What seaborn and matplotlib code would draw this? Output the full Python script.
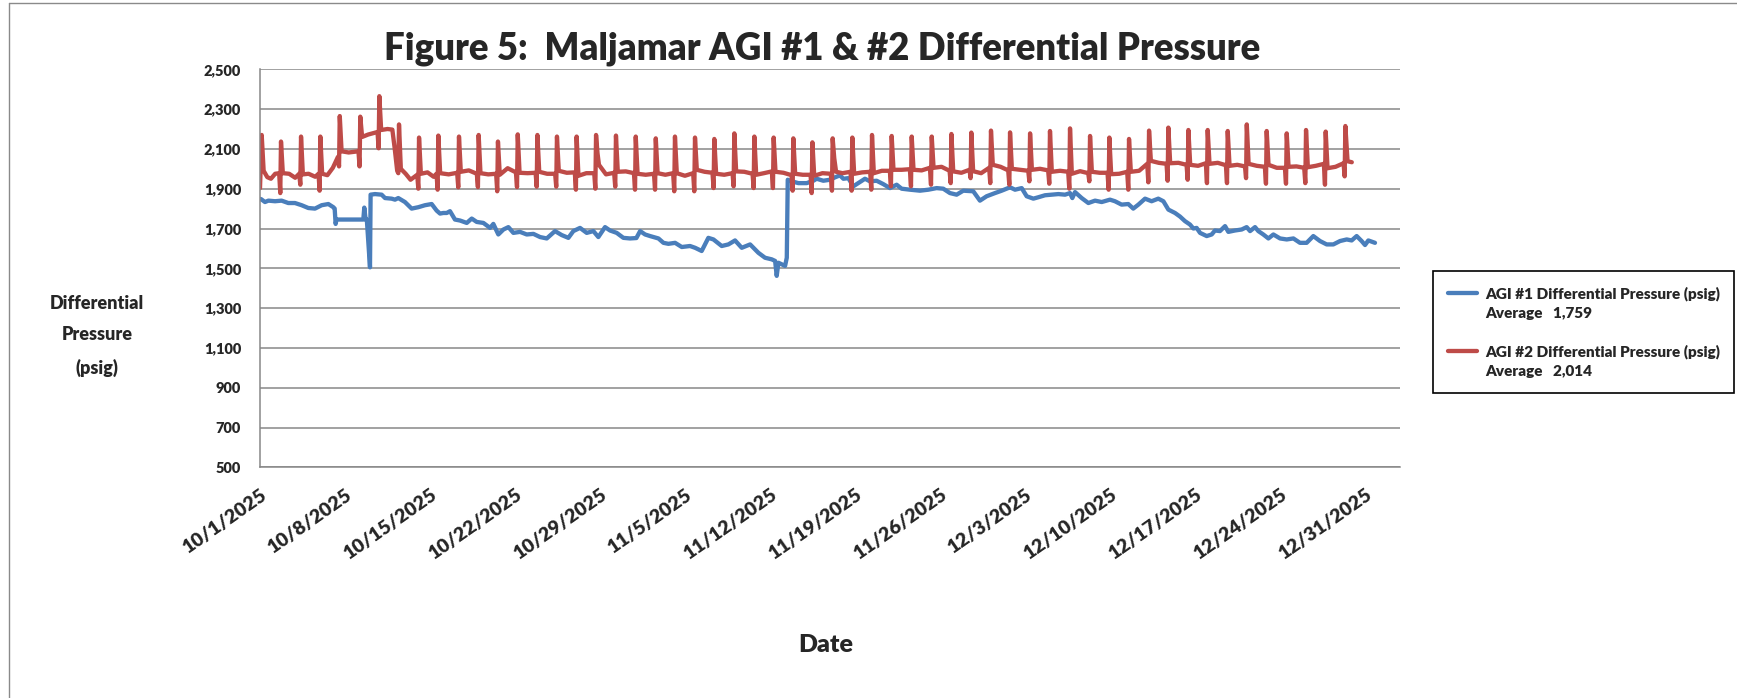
import numpy as np
import pandas as pd
import matplotlib
matplotlib.use("Agg")
import matplotlib.pyplot as plt
import seaborn as sns
from matplotlib.lines import Line2D

# ---------------- data ----------------
START_DATE = "2025-10-01"

# AGI #1 differential pressure: (days after 10/1/2025, psig)
agi1_points = [
    (0.00, 1848), (0.08, 1848), (0.41, 1833), (0.69, 1840), (1.24, 1837), (1.78, 1840),
    (2.33, 1828), (2.88, 1828), (3.43, 1817), (3.98, 1803), (4.53, 1800), (5.08, 1817),
    (5.63, 1823), (6.04, 1807), (6.15, 1800), (6.23, 1723), (6.30, 1745), (7.83, 1745),
    (8.51, 1745), (8.59, 1805), (8.70, 1745), (8.80, 1745), (9.06, 1505), (9.11, 1870),
    (9.47, 1873), (10.02, 1870), (10.30, 1853), (10.84, 1850), (11.12, 1845), (11.39, 1853),
    (11.94, 1833), (12.49, 1800), (13.04, 1807), (13.59, 1817), (14.14, 1823), (14.55, 1790),
    (14.83, 1775), (15.10, 1778), (15.38, 1778), (15.65, 1787), (16.06, 1745), (16.48, 1740),
    (17.03, 1728), (17.44, 1750), (17.85, 1733), (18.40, 1728), (18.95, 1703), (19.22, 1723),
    (19.63, 1670), (20.05, 1695), (20.46, 1707), (20.87, 1678), (21.42, 1683), (21.97, 1670),
    (22.52, 1673), (23.07, 1657), (23.62, 1650), (24.30, 1687), (24.85, 1667), (25.40, 1653),
    (25.81, 1687), (26.36, 1703), (26.91, 1678), (27.46, 1687), (27.87, 1657), (28.42, 1707),
    (28.83, 1690), (29.38, 1678), (29.93, 1653), (30.48, 1650), (31.00, 1652), (31.31, 1687),
    (31.72, 1670), (32.13, 1662), (32.82, 1650), (33.23, 1628), (33.64, 1623), (34.19, 1628),
    (34.74, 1607), (35.42, 1612), (35.84, 1603), (36.38, 1587), (36.93, 1653), (37.35, 1645),
    (38.03, 1612), (38.58, 1620), (39.13, 1640), (39.68, 1603), (40.37, 1620), (41.05, 1578),
    (41.60, 1553), (42.15, 1545), (42.43, 1537), (42.56, 1462), (42.70, 1528), (42.98, 1520),
    (43.25, 1512), (43.39, 1553), (43.47, 1945), (43.80, 1937), (44.35, 1928), (45.03, 1928),
    (45.58, 1940), (45.85, 1950), (46.40, 1940), (46.95, 1945), (47.36, 1957), (47.77, 1967),
    (48.05, 1950), (48.46, 1953), (48.87, 1912), (49.28, 1928), (49.83, 1950), (50.24, 1937),
    (50.79, 1940), (51.34, 1923), (51.89, 1903), (52.44, 1920), (52.85, 1900), (53.54, 1895),
    (54.36, 1890), (55.05, 1895), (55.73, 1903), (56.28, 1900), (56.83, 1878), (57.38, 1870),
    (57.93, 1890), (58.75, 1887), (59.30, 1840), (59.85, 1862), (60.54, 1878), (61.09, 1890),
    (61.78, 1907), (62.19, 1895), (62.74, 1903), (63.15, 1862), (63.70, 1850), (64.11, 1857),
    (64.66, 1867), (65.21, 1870), (65.76, 1873), (66.31, 1870), (66.72, 1878), (66.91, 1853),
    (67.13, 1883), (67.68, 1853), (68.23, 1828), (68.78, 1840), (69.33, 1833), (70.01, 1845),
    (70.42, 1837), (70.97, 1820), (71.52, 1823), (71.93, 1800), (72.35, 1820), (72.90, 1850),
    (73.44, 1837), (73.99, 1850), (74.41, 1837), (74.82, 1795), (75.37, 1778), (75.78, 1760),
    (76.19, 1737), (76.60, 1720), (76.88, 1700), (77.15, 1703), (77.43, 1678), (77.98, 1662),
    (78.39, 1670), (78.66, 1690), (79.07, 1687), (79.49, 1712), (79.76, 1683), (80.31, 1690),
    (80.86, 1695), (81.27, 1707), (81.55, 1687), (81.96, 1707), (82.23, 1687), (82.64, 1670),
    (83.06, 1650), (83.47, 1670), (84.02, 1650), (84.57, 1645), (85.12, 1650), (85.66, 1628),
    (86.21, 1628), (86.76, 1662), (87.31, 1637), (87.86, 1620), (88.41, 1620), (88.96, 1637),
    (89.51, 1645), (89.92, 1640), (90.33, 1662), (90.74, 1637), (91.02, 1617), (91.29, 1640),
    (91.84, 1628),
]

# AGI #2 differential pressure: (days after 10/1/2025, psig)
agi2_points = [
    (0.00, 1903), (0.14, 2170), (0.30, 1990), (0.60, 1958), (0.90, 1950), (1.25, 1975), (1.58, 1978),
    (1.67, 1878), (1.73, 2137), (1.88, 1978), (2.40, 1975), (2.90, 1955), (3.23, 1975),
    (3.32, 1920), (3.38, 2162), (3.53, 1972), (4.00, 1975), (4.55, 1960), (4.82, 1975),
    (4.91, 1890), (4.97, 2162), (5.12, 1975), (5.55, 1968), (6.00, 2005), (6.42, 2060),
    (6.51, 2012), (6.57, 2265), (6.72, 2088), (7.30, 2082), (7.80, 2086), (8.11, 2088),
    (8.20, 2012), (8.26, 2262), (8.41, 2160), (8.90, 2172), (9.40, 2180), (9.68, 2185),
    (9.77, 2103), (9.83, 2365), (9.98, 2195), (10.50, 2200), (10.90, 2197), (11.10, 2100), (11.30, 1990),
    (11.39, 1978), (11.45, 2223), (11.60, 2000), (12.00, 1975), (12.40, 1945), (12.95, 1970),
    (13.04, 1900), (13.10, 2157), (13.25, 1975), (13.80, 1982), (14.30, 1960),
    (14.54, 1975), (14.63, 1895), (14.69, 2167), (14.84, 1978), (15.54, 1972),
    (16.24, 1980), (16.33, 1907), (16.39, 2162), (16.54, 1985), (17.20, 1992),
    (17.86, 1975), (17.95, 1908), (18.01, 2170), (18.16, 1978), (18.80, 1972),
    (19.45, 1975), (19.54, 1887), (19.60, 2137), (19.75, 1970), (20.40, 2003),
    (21.08, 1982), (21.17, 1908), (21.23, 2173), (21.38, 1980), (22.04, 1978),
    (22.70, 1980), (22.79, 1910), (22.85, 2170), (23.00, 1985), (23.65, 1975),
    (24.31, 1975), (24.40, 1910), (24.46, 2162), (24.61, 1990), (25.27, 1980),
    (25.93, 1982), (26.02, 1895), (26.08, 2162), (26.23, 1965), (26.88, 1978),
    (27.53, 1978), (27.62, 1900), (27.68, 2170), (27.80, 2078), (27.92, 2020), (28.50, 1972),
    (29.17, 1980), (29.26, 1910), (29.32, 2167), (29.47, 1985), (30.13, 1987),
    (30.80, 1978), (30.89, 1895), (30.95, 2162), (31.10, 1975), (31.77, 1970),
    (32.45, 1975), (32.54, 1895), (32.60, 2153), (32.75, 1978), (33.39, 1970),
    (34.03, 1978), (34.12, 1887), (34.18, 2162), (34.33, 1978), (35.00, 1965),
    (35.68, 1978), (35.77, 1887), (35.83, 2157), (35.98, 1995), (36.62, 1985),
    (37.27, 1980), (37.36, 1903), (37.42, 2150), (37.57, 1975), (38.24, 1970),
    (38.92, 1978), (39.01, 1912), (39.07, 2178), (39.22, 1987), (39.89, 1985),
    (40.57, 1975), (40.66, 1903), (40.72, 2162), (40.87, 1970), (41.51, 1978),
    (42.16, 1987), (42.25, 1903), (42.31, 2157), (42.46, 1985), (43.12, 1980),
    (43.78, 1968), (43.87, 1890), (43.93, 2153), (44.08, 1975), (44.71, 1970),
    (45.35, 1970), (45.44, 1878), (45.50, 2133), (45.65, 1965), (46.33, 1978),
    (47.02, 1975), (47.11, 1890), (47.17, 2153), (47.30, 2053), (47.45, 1985), (47.98, 1978),
    (48.64, 1985), (48.73, 1890), (48.79, 2157), (48.94, 1975), (49.60, 1982),
    (50.26, 1985), (50.35, 1895), (50.41, 2170), (50.56, 1978), (51.22, 1990),
    (51.88, 1990), (51.97, 1912), (52.03, 2165), (52.18, 1995), (52.85, 1995),
    (53.53, 1998), (53.62, 1912), (53.68, 2162), (53.83, 1995), (54.50, 1992),
    (55.18, 2005), (55.27, 1920), (55.33, 2162), (55.48, 2005), (56.14, 2010),
    (56.80, 1990), (56.89, 1928), (56.95, 2175), (57.10, 1987), (57.77, 1980),
    (58.44, 1995), (58.53, 1953), (58.59, 2182), (58.74, 1988), (59.40, 1978),
    (60.06, 2005), (60.15, 1928), (60.21, 2192), (60.36, 2020), (61.00, 2010),
    (61.63, 1992), (61.72, 1920), (61.78, 2183), (61.93, 2000), (62.60, 1995),
    (63.28, 1990), (63.37, 1937), (63.43, 2178), (63.58, 1995), (64.25, 2000),
    (64.92, 1992), (65.01, 1925), (65.07, 2190), (65.22, 1985), (65.90, 1990),
    (66.57, 1985), (66.66, 1900), (66.72, 2203), (66.87, 1975), (67.55, 1988),
    (68.22, 1978), (68.31, 1937), (68.37, 2165), (68.52, 1985), (69.17, 1980),
    (69.81, 1980), (69.90, 1895), (69.96, 2157), (70.11, 1973), (70.77, 1975),
    (71.43, 1985), (71.52, 1895), (71.58, 2150), (71.73, 1985), (72.41, 1990),
    (73.08, 2025), (73.17, 1932), (73.23, 2192), (73.38, 2040), (74.03, 2030),
    (74.67, 2025), (74.76, 1940), (74.82, 2207), (74.97, 2028), (75.65, 2030),
    (76.32, 2020), (76.41, 1945), (76.47, 2195), (76.62, 2020), (77.27, 2015),
    (77.91, 2028), (78.00, 1928), (78.06, 2195), (78.21, 2025), (78.89, 2030),
    (79.56, 2018), (79.65, 1928), (79.71, 2190), (79.86, 2015), (80.50, 2020),
    (81.13, 2012), (81.22, 1953), (81.28, 2223), (81.43, 2025), (82.10, 2015),
    (82.77, 2010), (82.86, 1925), (82.92, 2190), (83.07, 2020), (83.75, 2005),
    (84.42, 2005), (84.51, 1925), (84.57, 2178), (84.72, 2010), (85.37, 2012),
    (86.01, 2005), (86.10, 1928), (86.16, 2195), (86.31, 2008), (86.97, 2015),
    (87.63, 2025), (87.72, 1920), (87.78, 2187), (87.93, 2003), (88.59, 2010),
    (89.25, 2028), (89.34, 1962), (89.40, 2215), (89.58, 2038), (89.93, 2033),
]

series_names = ["AGI #1 Differential Pressure (psig)", "AGI #2 Differential Pressure (psig)"]
series_averages = ["Average   1,759", "Average   2,014"]

x_tick_dates = ["2025-10-01", "2025-10-08", "2025-10-15", "2025-10-22", "2025-10-29",
                "2025-11-05", "2025-11-12", "2025-11-19", "2025-11-26", "2025-12-03",
                "2025-12-10", "2025-12-17", "2025-12-24", "2025-12-31"]
x_tick_labels = ["10/1/2025", "10/8/2025", "10/15/2025", "10/22/2025", "10/29/2025",
                 "11/5/2025", "11/12/2025", "11/19/2025", "11/26/2025", "12/3/2025",
                 "12/10/2025", "12/17/2025", "12/24/2025", "12/31/2025"]
y_ticks = [500, 700, 900, 1100, 1300, 1500, 1700, 1900, 2100, 2300, 2500]
y_tick_labels = ["500", "700", "900", "1,100", "1,300", "1,500", "1,700", "1,900",
                 "2,100", "2,300", "2,500"]

title_text = "Figure 5:  Maljamar AGI #1 & #2 Differential Pressure"
y_label_text = "Differential\nPressure\n(psig)"
x_label_text = "Date"

# ---------------- style ----------------
sns.set_style("white")
plt.rcParams["font.family"] = ["Lato", "DejaVu Sans"]
WEIGHT = "heavy"
plt.rcParams["font.weight"] = WEIGHT

BLUE = "#4A7EBB"
RED = "#BE4B48"
GRID = "#878787"

W, H = 1737, 698
fig = plt.figure(figsize=(W / 100, H / 100), dpi=100)
fig.patch.set_facecolor("white")
ax = fig.add_axes([260 / W, 1 - 467.3 / H, 1140 / W, 398 / H])

start = pd.Timestamp(START_DATE)
df1 = pd.DataFrame(agi1_points, columns=["day", "psig"])
df1["date"] = start + pd.to_timedelta(df1["day"], unit="D")
df2 = pd.DataFrame(agi2_points, columns=["day", "psig"])
df2["date"] = start + pd.to_timedelta(df2["day"], unit="D")

sns.lineplot(data=df1, x="date", y="psig", ax=ax, color=BLUE, lw=3.1,
             label=series_names[0], legend=False, solid_joinstyle="round")
sns.lineplot(data=df2, x="date", y="psig", ax=ax, color=RED, lw=3.1,
             label=series_names[1], legend=False, solid_joinstyle="round")

ax.set_ylim(500, 2500)
ax.set_xlim(start, start + pd.Timedelta(days=93.9))
ax.set_yticks(y_ticks)
ax.set_yticklabels(y_tick_labels, fontsize=10.5, fontweight=WEIGHT)
ax.set_xticks(pd.to_datetime(x_tick_dates))
ax.set_xticklabels(x_tick_labels, fontsize=14, fontweight=WEIGHT, rotation=35,
                   ha="right", rotation_mode="anchor")
ax.set_xlabel("")
ax.set_ylabel("")

ax.grid(axis="y", color=GRID, lw=1.1)
ax.grid(axis="x", visible=False)
ax.set_axisbelow(True)
for s in ["top", "right"]:
    ax.spines[s].set_visible(False)
for s in ["left", "bottom"]:
    ax.spines[s].set_color(GRID)
    ax.spines[s].set_linewidth(1.1)
ax.tick_params(axis="x", direction="out", length=5.5, width=1.1, color=GRID, pad=8)
ax.tick_params(axis="y", direction="out", length=3.6, width=1.1, color=GRID, pad=10)

# titles / labels
fig.text(822 / W, 1 - 49 / H, title_text, ha="center", va="center",
         fontsize=26.3, fontweight=WEIGHT)
fig.text(97 / W, 1 - 336 / H, y_label_text, ha="center", va="center",
         fontsize=13, fontweight=WEIGHT, linespacing=2.05)
fig.text(826 / W, 1 - 645 / H, x_label_text, ha="center", va="center",
         fontsize=18, fontweight=WEIGHT)

# legend
h, l = ax.get_legend_handles_labels()
blank = Line2D([], [], color="none")
handles = [h[0], blank, blank, h[1], blank]
labels = [l[0], series_averages[0], " ", l[1], series_averages[1]]
leg = fig.legend(handles, labels, loc="upper left",
                 bbox_to_anchor=(1433 / W, 1 - 271 / H, 301 / W, 0.0),
                 bbox_transform=fig.transFigure, mode="expand",
                 frameon=True, fancybox=False, edgecolor="black", framealpha=1,
                 prop={"size": 11, "weight": WEIGHT}, handlelength=1.9,
                 handletextpad=0.5, labelspacing=0.38, borderpad=1.0, borderaxespad=0)
leg.get_frame().set_linewidth(1.2)

# chart-area border
fig.add_artist(Line2D([9 / W, 1], [1 - 3 / H, 1 - 3 / H], transform=fig.transFigure,
                      color="#8a8a8a", lw=1))
fig.add_artist(Line2D([9 / W, 9 / W], [0, 1 - 3 / H], transform=fig.transFigure,
                      color="#8a8a8a", lw=1))

fig.savefig("out.png", dpi=100, facecolor="white")
